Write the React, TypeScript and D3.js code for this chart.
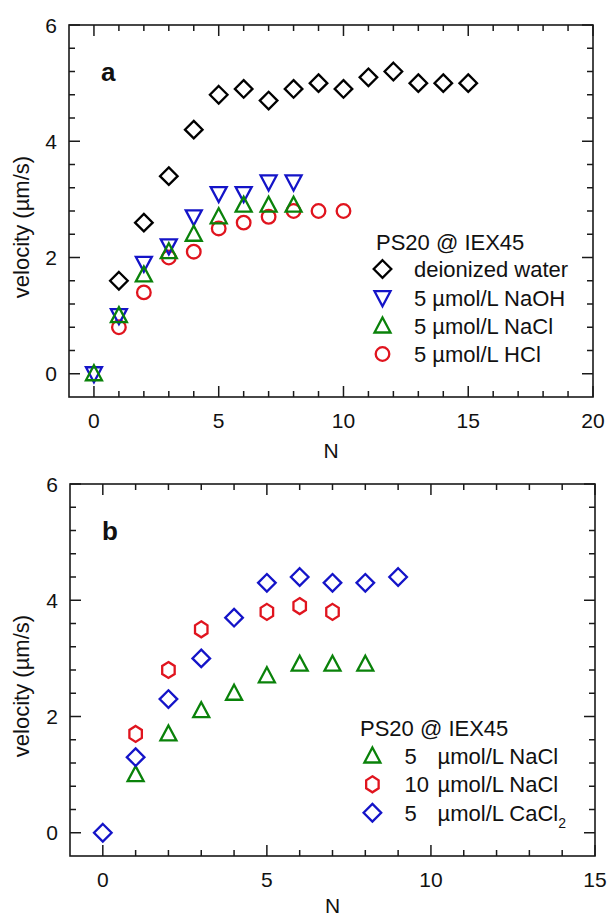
import React from "react";
import * as d3 from "d3";

// ---------- data ----------
const nA_water = [1, 2, 3, 4, 5, 6, 7, 8, 9, 10, 11, 12, 13, 14, 15];
const vA_water = [1.6, 2.6, 3.4, 4.2, 4.8, 4.9, 4.7, 4.9, 5.0, 4.9, 5.1, 5.2, 5.0, 5.0, 5.0];
const nA_naoh = [0, 1, 2, 3, 4, 5, 6, 7, 8];
const vA_naoh = [0, 1.0, 1.9, 2.2, 2.7, 3.1, 3.1, 3.3, 3.3];
const nA_nacl = [0, 1, 2, 3, 4, 5, 6, 7, 8];
const vA_nacl = [0, 1.0, 1.7, 2.1, 2.4, 2.7, 2.9, 2.9, 2.9];
const nA_hcl = [1, 2, 3, 4, 5, 6, 7, 8, 9, 10];
const vA_hcl = [0.8, 1.4, 2.0, 2.1, 2.5, 2.6, 2.7, 2.8, 2.8, 2.8];

const nB_nacl5 = [1, 2, 3, 4, 5, 6, 7, 8];
const vB_nacl5 = [1.0, 1.7, 2.1, 2.4, 2.7, 2.9, 2.9, 2.9];
const nB_nacl10 = [1, 2, 3, 5, 6, 7];
const vB_nacl10 = [1.7, 2.8, 3.5, 3.8, 3.9, 3.8];
const nB_cacl2 = [0, 1, 2, 3, 4, 5, 6, 7, 8, 9];
const vB_cacl2 = [0, 1.3, 2.3, 3.0, 3.7, 4.3, 4.4, 4.3, 4.3, 4.4];

const xTicksA = [0, 5, 10, 15, 20];
const xTicksB = [0, 5, 10, 15];
const yTicks = [0, 2, 4, 6];

const legendTitle = "PS20 @ IEX45";
const legendA = ["deionized water", "5 µmol/L NaOH", "5 µmol/L NaCl", "5 µmol/L HCl"];
const legendB = [["5", "µmol/L NaCl"], ["10", "µmol/L NaCl"], ["5", "µmol/L CaCl"]];

// ---------- styling ----------
const BLACK = "#000000";
const BLUE = "#1414c8";
const GREEN = "#0a820a";
const RED = "#e0141e";
const FONT = "Arial, 'Liberation Sans', Helvetica, sans-serif";
const SW = 2.3;

type Shape = "diamond" | "tdown" | "tup" | "circle" | "hex";

function Marker({ shape, x, y, color }: { shape: Shape; x: number; y: number; color: string }) {
  const common = { fill: "none", stroke: color, strokeWidth: SW, strokeLinejoin: "miter" as const };
  if (shape === "circle") return <circle cx={x} cy={y} r={6.8} {...common} />;
  let pts: [number, number][] = [];
  if (shape === "diamond") {
    const r = 8.8;
    pts = [[0, -r], [r, 0], [0, r], [-r, 0]];
  } else if (shape === "tup") {
    const w = 8, h = 7.5;
    pts = [[0, -h - 1], [w, h - 1], [-w, h - 1]];
  } else if (shape === "tdown") {
    const w = 8, h = 7.5;
    pts = [[0, h + 1], [w, -h + 1], [-w, -h + 1]];
  } else if (shape === "hex") {
    const r = 8;
    pts = d3.range(6).map((i) => {
      const a = (Math.PI / 3) * i - Math.PI / 2;
      return [r * 0.9 * Math.cos(a), r * Math.sin(a)] as [number, number];
    });
  }
  const d = "M" + pts.map((p) => `${x + p[0]},${y + p[1]}`).join("L") + "Z";
  return <path d={d} {...common} />;
}

type Series = { n: number[]; v: number[]; shape: Shape; color: string };

function Panel({
  left, right, top, bottom, xMax, xTicks, series, label, nOffset,
}: {
  left: number; right: number; top: number; bottom: number; xMax: number;
  xTicks: number[]; series: Series[]; label: string; nOffset: number;
}) {
  const x = d3.scaleLinear().domain([-1, xMax]).range([left, right]);
  const y = d3.scaleLinear().domain([-0.4, 6]).range([bottom, top]);
  const minorX = d3.range(0, xMax + 0.001, 1);
  const minorY = d3.range(0, 16).map((i) => i * 0.4);
  const MAJ = 11, MIN = 6;
  const axisColor = "#1a1a1a";
  const ticks: JSX.Element[] = [];
  minorX.forEach((t, i) => {
    const L = xTicks.includes(t) ? MAJ : MIN;
    ticks.push(<line key={"bx" + i} x1={x(t)} x2={x(t)} y1={bottom} y2={bottom - L} stroke={axisColor} strokeWidth={1.5} />);
    ticks.push(<line key={"tx" + i} x1={x(t)} x2={x(t)} y1={top} y2={top + L} stroke={axisColor} strokeWidth={1.5} />);
  });
  minorY.forEach((t, i) => {
    const L = yTicks.some((m) => Math.abs(m - t) < 1e-6) ? MAJ : MIN;
    ticks.push(<line key={"ly" + i} x1={left} x2={left + L} y1={y(t)} y2={y(t)} stroke={axisColor} strokeWidth={1.5} />);
    ticks.push(<line key={"ry" + i} x1={right} x2={right - L} y1={y(t)} y2={y(t)} stroke={axisColor} strokeWidth={1.5} />);
  });
  const cy = (top + bottom) / 2 + 16;
  return (
    <g>
      {ticks}
      <rect x={left} y={top} width={right - left} height={bottom - top} fill="none" stroke={axisColor} strokeWidth={1.6} />
      {xTicks.map((t) => (
        <text key={"xl" + t} x={x(t)} y={bottom + 31} textAnchor="middle" fontSize={21} fontFamily={FONT} fill="#111">{t}</text>
      ))}
      {yTicks.map((t) => (
        <text key={"yl" + t} x={left - 12} y={y(t) + 7.5} textAnchor="end" fontSize={21} fontFamily={FONT} fill="#111">{t}</text>
      ))}
      <text x={(left + right) / 2} y={bottom + nOffset} textAnchor="middle" fontSize={21} fontFamily={FONT} fill="#111">N</text>
      <text transform={`translate(29,${cy}) rotate(-90)`} textAnchor="middle" fontSize={22} fontFamily={FONT} fill="#111">velocity (µm/s)</text>
      <text x={left + 32} y={top + 56} fontSize={26} fontWeight="bold" fontFamily={FONT} fill="#111">{label}</text>
      {series.map((s, si) => (
        <g key={"s" + si}>
          {s.n.map((nv, i) => (
            <Marker key={i} shape={s.shape} x={x(nv)} y={y(s.v[i])} color={s.color} />
          ))}
        </g>
      ))}
    </g>
  );
}

export default function App() {
  const seriesA: Series[] = [
    { n: nA_water, v: vA_water, shape: "diamond", color: BLACK },
    { n: nA_hcl, v: vA_hcl, shape: "circle", color: RED },
    { n: nA_naoh, v: vA_naoh, shape: "tdown", color: BLUE },
    { n: nA_nacl, v: vA_nacl, shape: "tup", color: GREEN },
  ];
  const seriesB: Series[] = [
    { n: nB_nacl10, v: vB_nacl10, shape: "hex", color: RED },
    { n: nB_nacl5, v: vB_nacl5, shape: "tup", color: GREEN },
    { n: nB_cacl2, v: vB_cacl2, shape: "diamond", color: BLUE },
  ];
  const legAShapes: [Shape, string][] = [["diamond", BLACK], ["tdown", BLUE], ["tup", GREEN], ["circle", RED]];
  const legBShapes: [Shape, string][] = [["tup", GREEN], ["hex", RED], ["diamond", BLUE]];
  const rowA = [269, 297.7, 326, 354];
  const rowB = [756, 784.3, 812.7];
  return (
    <svg width={607} height={918} style={{ position: "absolute", left: 0, top: 0, background: "#fff" }}>
      <rect x={0} y={0} width={607} height={918} fill="#fff" />
      <Panel left={69} right={593} top={25} bottom={397} xMax={20} xTicks={xTicksA} series={seriesA} label="a" nOffset={61} />
      <Panel left={70} right={595} top={484} bottom={856} xMax={15} xTicks={xTicksB} series={seriesB} label="b" nOffset={57} />

      {/* legend a */}
      <text x={376} y={241.7 + 8} fontSize={22} fontFamily={FONT} fill="#111">{legendTitle}</text>
      {legendA.map((t, i) => (
        <g key={"la" + i}>
          <Marker shape={legAShapes[i][0]} x={382.5} y={rowA[i]} color={legAShapes[i][1]} />
          <text x={414} y={rowA[i] + 8} fontSize={22} fontFamily={FONT} fill="#111">{t}</text>
        </g>
      ))}

      {/* legend b */}
      <text x={360} y={728 + 8} fontSize={22} fontFamily={FONT} fill="#111">{legendTitle}</text>
      {legendB.map((t, i) => (
        <g key={"lb" + i}>
          <Marker shape={legBShapes[i][0]} x={372.4} y={rowB[i]} color={legBShapes[i][1]} />
          <text x={404.6} y={rowB[i] + 8} fontSize={22} fontFamily={FONT} fill="#111">{t[0]}</text>
          <text x={437.5} y={rowB[i] + 8} fontSize={22} fontFamily={FONT} fill="#111">
            {t[1]}
            {i === 2 ? <tspan fontSize={14} dy={7}>2</tspan> : null}
          </text>
        </g>
      ))}
    </svg>
  );
}
